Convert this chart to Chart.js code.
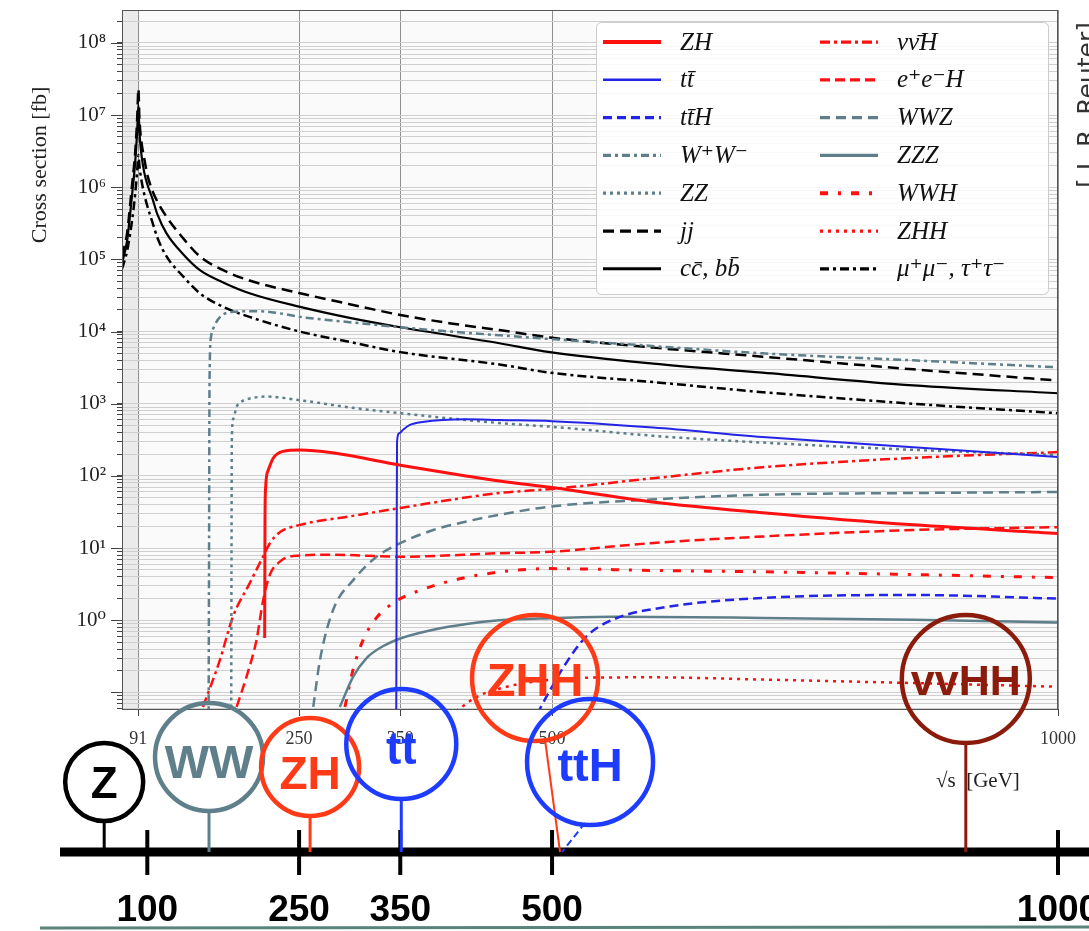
<!DOCTYPE html>
<html>
<head>
<meta charset="utf-8">
<script src="https://cdn.jsdelivr.net/npm/chart.js@4.4.1/dist/chart.umd.min.js"></script>
<style>
  html, body { margin: 0; padding: 0; background: #fff; }
  #wrap { position: relative; width: 1089px; height: 931px; }
</style>
</head>
<body>
<div id="wrap"><canvas id="xsecChart" width="1089" height="931"></canvas></div>
<script>
// cross sections: [sqrt(s) in GeV, sigma in fb]
const ZH    = [[216.0,0.57],[216.3,20],[216.8,64],[219.5,120],[224.4,176],[234,219],[251,229],[283,209],[350,141],[415,100],[448,85],[500,69],[597,44],[708,31],[857,21],[1000,16]];
const TT    = [[346.0,0.04],[346.4,5],[346.8,300],[349,390],[353,440],[359.5,510],[372,560],[415,610],[448,595],[500,575],[600,470],[708,347],[857,250],[1000,183]];
const TTH   = [[485.5,0.05],[489,0.063],[500,0.12],[511.8,0.23],[533.5,0.59],[560,1.02],[616,1.55],[708,2.04],[857,2.24],[1000,2.0]];
const WW    = [[160.6,0.04],[161.0,5],[161.5,2000],[163,8500],[166,11700],[172,16000],[185,18800],[210,19200],[230,18000],[251,16000],[300,13500],[350,11500],[400,10000],[448,8900],[498,7900],[560,6900],[708,5000],[857,4000],[1000,3200]];
const ZZ    = [[182.9,0.04],[183.2,5],[183.5,300],[185,620],[188.3,910],[193,1070],[200,1170],[218,1260],[251,1120],[300,890],[350,740],[448,540],[500,480],[600,360],[708,290],[857,230],[1000,195]];
const JJ    = [[75,1.1e5],[80,2.3e5],[85,1.1e6],[88,3e6],[90,9e6],[91.2,2.3e7],[92.2,9e6],[94,4.5e6],[97,2.5e6],[100,1.5e6],[105,9e5],[110,6.3e5],[119,3.9e5],[135,2.0e5],[152,1.1e5],[175,7.1e4],[201,5.1e4],[251,3.4e4],[300,2.4e4],[350,1.7e4],[400,1.3e4],[448,1.05e4],[498,8300],[600,6000],[708,4500],[857,3000],[1000,2100]];
const CCBB  = [[75,8.9e4],[80,1.8e5],[85,8e5],[88,2.2e6],[90,6e6],[91.2,1.4e7],[92.2,6e6],[94,3e6],[97,1.6e6],[100,1.1e6],[105,7e5],[110,4.2e5],[119,2.3e5],[135,1.2e5],[152,7.1e4],[175,4.8e4],[201,3.4e4],[251,2.2e4],[300,1.55e4],[350,1.15e4],[448,6900],[498,5200],[600,3600],[708,2700],[857,1800],[1000,1400]];
const NUNUH = [[155,0.063],[171.7,0.28],[184.6,1.12],[201.4,3.3],[214.3,7.6],[221.2,11.7],[231,16.6],[251,21],[300,27.5],[350,36],[448,58],[500,66],[600,93],[708,132],[857,178],[1000,214]];
const EEH   = [[188.3,0.063],[198.1,0.166],[208,0.54],[214.5,1.9],[221.2,4.3],[231,6.5],[244.2,7.8],[283.4,8.1],[350,7.6],[448,8.5],[498,8.9],[597,11.7],[708,14.5],[857,17.8],[1000,19.5]];
const WWZ   = [[264,0.063],[270.6,0.28],[283.7,1.4],[303.5,3.6],[326.6,7.6],[350,11.7],[382.6,17.8],[415.5,23.4],[448,29],[498,37.6],[597,47],[708,55],[857,58],[1000,60]];
const ZZZ   = [[290.3,0.063],[303.5,0.166],[316.7,0.30],[333.2,0.44],[350,0.56],[382.6,0.74],[415.5,0.89],[448,1.0],[498,1.07],[560,1.12],[708,1.08],[857,1.02],[1000,0.93]];
const WWH   = [[295.3,0.063],[303.5,0.21],[313.4,0.54],[325,1.02],[343,1.74],[369.4,2.6],[422,4.1],[498,5.2],[600,4.9],[708,4.7],[857,4.3],[1000,3.9]];
const ZHH   = [[405,0.055],[425.6,0.087],[450,0.115],[480,0.14],[533.5,0.16],[600,0.162],[708,0.151],[857,0.135],[1000,0.12]];
const MUMU  = [[75,7.4e4],[80,1.3e5],[85,3.5e5],[88,8e5],[90,1.7e6],[91.2,2.8e6],[92.2,2.0e6],[94,1.3e6],[97,8e5],[100,5.5e5],[105,3.3e5],[110,2e5],[119,1.1e5],[135,5.9e4],[152,3.4e4],[175,2.2e4],[201,1.6e4],[251,1.0e4],[300,7200],[350,5200],[448,3500],[498,2700],[600,2000],[708,1450],[857,1000],[1000,740]];

// axes
const xTicks = [91, 250, 350, 500, 1000];
const yDecades = [-2, -1, 0, 1, 2, 3, 4, 5, 6, 7, 8];
const yMantissas = [1, 2, 3, 4, 5, 6, 7, 8, 9];
const zPole = 91;

// collider stages on the timeline below
const timelineTicks = [100, 250, 350, 500, 1000];
const stages = [
    { text: 'Z',    e: 91,  dx: -34, cy: 782, r: 39, ty: 782, size: 44, color: '#000000' },
    { text: 'WW',   e: 161, dx: 0,   cy: 757, r: 54, ty: 762, size: 47, color: '#5f7f8b' },
    { text: 'ZH',   e: 250, dx: 11,  cy: 767, r: 49, ty: 773, size: 46, color: '#ff3a17' },
    { text: 'tt',   e: 350, dx: 1,   cy: 744, r: 55, ty: 748, size: 46, color: '#1d3cff' },
    { text: 'ZHH',  e: 500, dx: -17, cy: 678, r: 63, ty: 680, size: 47, color: '#ff3a17' },
    { text: 'ttH',  e: 500, dx: 38,  cy: 762, r: 63, ty: 765, size: 47, color: '#1d3cff' },
    { text: 'vvHH', e: 900, dx: 9,   cy: 679, r: 64, ty: 680, size: 43, color: '#8b1c0c' }
];

const RED = '#ff1010';
const BLUE = '#2424e6';
const GREY = '#5e7f8a';
const BLACK = '#000000';

function series(label, pts, color, width, dash) {
    return {
        label: label,
        data: pts.map(p => ({ x: p[0], y: p[1] })),
        borderColor: color,
        borderWidth: width,
        borderDash: dash,
        pointRadius: 0,
        fill: false,
        cubicInterpolationMode: 'monotone'
    };
}

const supDigits = { '-': '\u207B', '0': '\u2070', '1': '\u00B9', '2': '\u00B2', '3': '\u00B3', '4': '\u2074', '5': '\u2075', '6': '\u2076', '7': '\u2077', '8': '\u2078', '9': '\u2079' };
function powLabel(n) {
    return '10' + String(n).split('').map(c => supDigits[c]).join('');
}

const overlay = {
    id: 'overlay',
    beforeDraw(chart) {
        const { ctx, chartArea: a, scales: { x } } = chart;
        ctx.save();
        ctx.fillStyle = '#fafafa';
        ctx.fillRect(a.left, a.top, a.right - a.left, a.bottom - a.top);
        ctx.fillStyle = '#ebebeb';
        ctx.fillRect(a.left, a.top, x.getPixelForValue(zPole) - a.left, a.bottom - a.top);
        ctx.restore();
    },
    afterDatasetsDraw(chart) {
        const { ctx, chartArea: a, scales: { y } } = chart;
        ctx.save();
        ctx.strokeStyle = '#555';
        ctx.lineWidth = 1;
        ctx.strokeRect(a.left + 0.5, a.top + 0.5, a.right - a.left - 1, a.bottom - a.top);
        // longer tick marks for the decades
        ctx.strokeStyle = '#444';
        yDecades.forEach(d => {
            const py = Math.round(y.getPixelForValue(Math.pow(10, d))) + 0.5;
            if (py < a.top || py > a.bottom) return;
            ctx.beginPath();
            ctx.moveTo(a.left - 11, py);
            ctx.lineTo(a.left, py);
            ctx.stroke();
        });
        ctx.restore();
    },
    afterDraw(chart) {
        const { ctx, scales: { x } } = chart;
        ctx.save();

        // legend, two columns of seven
        ctx.beginPath();
        ctx.roundRect(596.5, 22.5, 452, 272, 5);
        ctx.fillStyle = 'rgba(255,255,255,0.85)';
        ctx.fill();
        ctx.strokeStyle = '#cccccc';
        ctx.lineWidth = 1;
        ctx.stroke();
        ctx.font = 'italic 25px "Liberation Serif", "DejaVu Serif", serif';
        ctx.textBaseline = 'middle';
        ctx.textAlign = 'left';
        chart.data.datasets.forEach((ds, i) => {
            const col = Math.floor(i / 7);
            const y = 42 + (i % 7) * 37.8;
            const x0 = col ? 820 : 603;
            ctx.strokeStyle = ds.borderColor;
            ctx.lineWidth = ds.borderWidth * 1.3;
            ctx.setLineDash(ds.borderDash || []);
            ctx.beginPath();
            ctx.moveTo(x0, y);
            ctx.lineTo(x0 + 58, y);
            ctx.stroke();
            ctx.setLineDash([]);
            ctx.fillStyle = '#111';
            ctx.fillText(ds.label, x0 + 77, y + 1);
        });

        // axis titles
        ctx.fillStyle = '#222';
        ctx.font = '22px "Liberation Serif", "DejaVu Serif", serif';
        ctx.save();
        ctx.translate(40, 165);
        ctx.rotate(-Math.PI / 2);
        ctx.textAlign = 'center';
        ctx.fillText('Cross section [fb]', 0, 0);
        ctx.restore();
        ctx.font = '21px "Liberation Serif", "DejaVu Serif", serif';
        ctx.textAlign = 'left';
        ctx.fillText('\u221As  [GeV]', 936, 781);

        // credit on the right edge, cut by the page border
        ctx.save();
        ctx.translate(1095, 188);
        ctx.rotate(-Math.PI / 2);
        ctx.font = '25px "DejaVu Sans", sans-serif';
        ctx.textBaseline = 'alphabetic';
        ctx.textAlign = 'left';
        ctx.fillStyle = '#333';
        ctx.fillText('[ J. R. Reuter]', 0, 0);
        ctx.restore();

        // timeline
        const axisY = 852;
        ctx.strokeStyle = '#000';
        ctx.lineWidth = 9;
        ctx.beginPath();
        ctx.moveTo(60, axisY);
        ctx.lineTo(1089, axisY);
        ctx.stroke();
        ctx.lineWidth = 4;
        ctx.font = 'bold 37px "Liberation Sans", Arial, sans-serif';
        ctx.textAlign = 'center';
        ctx.textBaseline = 'middle';
        ctx.fillStyle = '#000';
        timelineTicks.forEach(v => {
            const px = x.getPixelForValue(v);
            ctx.beginPath();
            ctx.moveTo(px, 830);
            ctx.lineTo(px, 875);
            ctx.stroke();
            ctx.fillText(String(v), px, 911);
        });

        // stage circles and their stems
        const p500 = x.getPixelForValue(500);
        stages.forEach(s => {
            const cx = x.getPixelForValue(s.e) + s.dx;
            ctx.strokeStyle = s.color;
            ctx.fillStyle = s.color;
            ctx.setLineDash([]);
            ctx.lineWidth = 3;
            ctx.beginPath();
            if (s.text === 'ZHH') {
                ctx.lineWidth = 2;
                ctx.moveTo(cx + 10, s.cy + s.r - 1);
                ctx.lineTo(p500 + 8, axisY);
            } else if (s.text === 'ttH') {
                ctx.lineWidth = 2;
                ctx.setLineDash([7, 4]);
                ctx.moveTo(cx - 5, s.cy + s.r - 2);
                ctx.lineTo(p500 + 10, axisY);
            } else {
                ctx.moveTo(cx, s.cy + s.r);
                ctx.lineTo(cx, axisY);
            }
            ctx.stroke();
            ctx.setLineDash([]);
            ctx.lineWidth = 4.5;
            ctx.beginPath();
            ctx.arc(cx, s.cy, s.r, 0, Math.PI * 2);
            ctx.stroke();
            ctx.font = 'bold ' + s.size + 'px "Liberation Sans", Arial, sans-serif';
            ctx.textAlign = 'center';
            ctx.textBaseline = 'alphabetic';
            const m = ctx.measureText(s.text);
            ctx.fillText(s.text, cx, s.ty + (m.actualBoundingBoxAscent - m.actualBoundingBoxDescent) / 2);
        });

        // scan edge at the bottom
        ctx.strokeStyle = 'rgba(60,110,100,0.85)';
        ctx.lineWidth = 3;
        ctx.beginPath();
        ctx.moveTo(40, 928);
        ctx.lineTo(1089, 927);
        ctx.stroke();
        ctx.restore();
    }
};

const datasets = [
    series('ZH', ZH, RED, 3, []),
    series('tt\u0304', TT, BLUE, 2, []),
    series('tt\u0304H', TTH, BLUE, 2.5, [9, 5]),
    series('W\u207AW\u207B', WW, GREY, 2.5, [8, 4, 3, 4]),
    series('ZZ', ZZ, GREY, 2.5, [3, 4]),
    series('jj', JJ, BLACK, 2.5, [11, 6]),
    series('cc\u0304, bb\u0304', CCBB, BLACK, 2.2, []),
    series('\u03BD\u03BD\u0304H', NUNUH, RED, 2.5, [10, 4, 3, 4]),
    series('e\u207Ae\u207BH', EEH, RED, 2.5, [10, 5]),
    series('WWZ', WWZ, GREY, 2.5, [10, 6]),
    series('ZZZ', ZZZ, GREY, 2.5, []),
    series('WWH', WWH, RED, 3, [8, 10, 3, 10]),
    series('ZHH', ZHH, RED, 2.5, [3, 5]),
    series('\u03BC\u207A\u03BC\u207B, \u03C4\u207A\u03C4\u207B', MUMU, BLACK, 2.5, [9, 4, 3, 4])
];

new Chart(document.querySelector('#xsecChart'), {
    type: 'line',
    data: { datasets: datasets },
    options: {
        responsive: false,
        animation: false,
        devicePixelRatio: 1,
        layout: { padding: { top: 10, right: 31, left: 0, bottom: 0 } },
        plugins: { legend: { display: false }, tooltip: { enabled: false } },
        elements: { line: { borderCapStyle: 'butt' } },
        scales: {
            x: {
                type: 'linear',
                min: 75,
                max: 1000,
                afterBuildTicks: scale => { scale.ticks = xTicks.map(v => ({ value: v })); },
                afterFit: scale => { scale.height = 222; scale.paddingLeft = 0; scale.paddingRight = 0; },
                ticks: {
                    autoSkip: false,
                    maxRotation: 0,
                    padding: 12,
                    color: '#333',
                    font: { family: '"Liberation Serif", "DejaVu Serif", serif', size: 18 },
                    callback: v => String(v)
                },
                grid: { color: '#8f8f8f', tickColor: '#444', tickLength: 7 },
                border: { color: '#444' }
            },
            y: {
                type: 'logarithmic',
                min: 0.059,
                max: 2.86e8,
                afterBuildTicks: scale => {
                    const t = [];
                    yDecades.forEach(d => yMantissas.forEach(m => {
                        const v = m * Math.pow(10, d);
                        if (v >= scale.min && v <= scale.max) t.push({ value: v, major: m === 1 });
                    }));
                    scale.ticks = t;
                },
                afterFit: scale => { scale.width = 122; scale.paddingTop = 0; scale.paddingBottom = 0; },
                ticks: {
                    autoSkip: false,
                    padding: 11,
                    color: '#222',
                    font: { family: '"Liberation Serif", "DejaVu Serif", serif', size: 21 },
                    callback: v => {
                        const l = Math.log10(v);
                        if (Math.abs(l - Math.round(l)) < 1e-9 && l >= 0) return powLabel(Math.round(l));
                        return '';
                    }
                },
                grid: { color: '#cfcfcf', tickColor: '#444', tickLength: 5 },
                border: { color: '#444' }
            }
        }
    },
    plugins: [overlay]
});
</script>
</body>
</html>
